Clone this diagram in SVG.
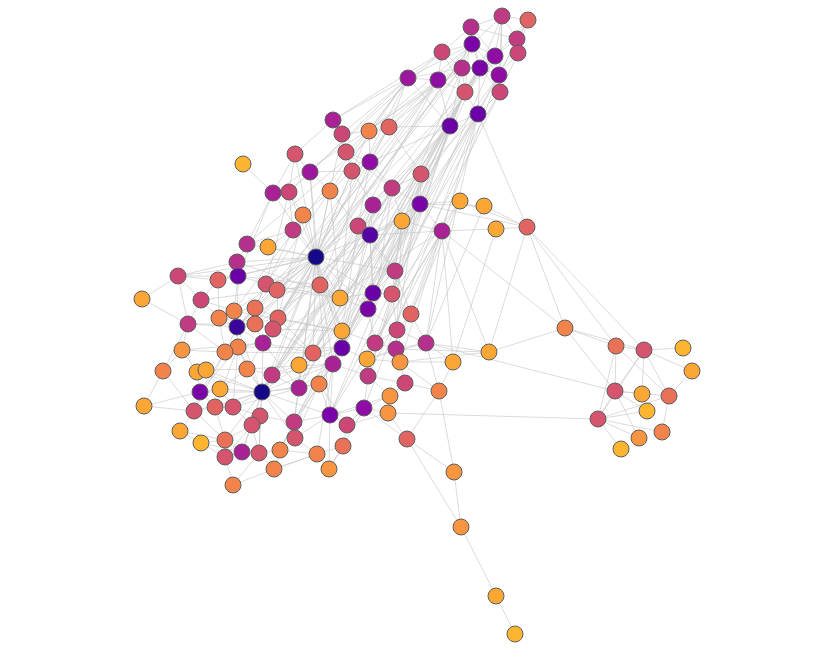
<svg xmlns="http://www.w3.org/2000/svg" width="833" height="651" viewBox="0 0 833 651">
<style>
.e{fill:none;stroke:#c6c6c6;stroke-width:0.75;stroke-opacity:0.85}
.n circle{stroke:#5f5f5f;stroke-width:1}
.k0{fill:#150889}.k1{fill:#3b049a}.k2{fill:#5402a3}.k3{fill:#6a00a8}.k4{fill:#7a02a8}.k5{fill:#8f0da4}.k6{fill:#9c179e}.k7{fill:#a82296}.k8{fill:#b52f8c}.k9{fill:#c13b82}.k10{fill:#cc4778}.k11{fill:#d5546e}.k12{fill:#e16462}.k13{fill:#e97158}.k14{fill:#f2844b}.k15{fill:#f89540}.k16{fill:#fca636}.k17{fill:#fdb42f}
</style>
<rect width="833" height="651" fill="#ffffff"/>
<g id="edges">
<path class="e" d="M471 27L502 16M471 27L472 44M471 27L442 52M471 27L495 56M471 27L462 68M471 27L480 68M471 27L517 39M502 16L528 20M502 16L472 44M502 16L517 39M502 16L495 56M502 16L480 68M502 16L499 75M528 20L517 39M528 20L518 53M528 20L495 56M472 44L442 52M472 44L495 56M472 44L462 68M472 44L480 68M472 44L499 75M472 44L408 78M472 44L438 80M442 52L462 68M442 52L408 78M442 52L438 80M442 52L465 92M517 39L495 56M517 39L518 53M517 39L499 75M518 53L499 75M518 53L500 92M495 56L480 68M495 56L499 75M495 56L465 92M462 68L480 68M462 68L438 80M462 68L465 92M462 68L450 126M480 68L499 75M480 68L465 92M480 68L500 92M480 68L478 114M499 75L500 92M499 75L478 114M408 78L438 80M408 78L450 126M438 80L465 92M438 80L450 126M465 92L450 126M465 92L478 114M500 92L478 114M450 126L478 114M408 78L462 68M528 20L499 75M502 16L500 92M471 27L465 92"/>
<path class="e" d="M408 78L333 120M408 78L369 131M408 78L389 127M408 78L342 134M438 80L389 127M438 80L369 131M450 126L389 127M450 126L421 174M450 126L370 162M478 114L421 174M478 114L420 204M478 114L527 227M442 52L333 120M472 44L369 131M462 68L389 127M465 92L421 174M438 80L370 162M450 126L392 188M478 114L442 231M450 126L402 221M465 92L420 204"/>
<path class="e" d="M462 68L316 257M408 78L316 257M438 80L316 257M450 126L316 257M480 68L368 309M465 92L373 293M478 114L426 343M450 126L375 343M499 75L396 349M495 56L320 285M472 44L278 318M438 80L262 392M450 126L262 392M480 68L299 388M465 92L237 327M462 68L342 348M500 92L367 359M408 78L266 284M478 114L330 415M450 126L368 376M499 75L280 450M465 92L313 353M438 80L247 244M462 68L273 193M480 68L373 205M500 92L395 271M442 52L310 172M408 78L289 192M495 56L392 294M478 114L364 408M465 92L294 422M450 126L263 343M480 68L272 375M499 75L340 298M450 126L342 348M478 114L333 364M465 92L330 415M480 68L313 353M462 68L237 327M438 80L255 324M408 78L234 311M472 44L263 343"/>
<path class="e" d="M333 120L342 134M333 120L295 154M333 120L346 152M342 134L369 131M342 134L346 152M369 131L389 127M369 131L370 162M389 127L370 162M389 127L421 174M295 154L310 172M295 154L273 193M295 154L289 192M346 152L370 162M346 152L352 171M370 162L352 171M370 162L392 188M310 172L289 192M310 172L330 191M310 172L352 171M352 171L330 191M352 171L373 205M243 164L273 193M273 193L289 192M273 193L247 244M289 192L303 215M289 192L293 230M330 191L303 215M330 191L358 226M392 188L373 205M392 188L421 174M392 188L420 204M373 205L358 226M373 205L370 235M420 204L370 235M420 204L402 221M420 204L460 201M420 204L442 231M420 204L527 227M402 221L442 231M460 201L527 227M484 206L527 227M496 229L527 227M442 231L496 229M442 231L370 235M293 230L247 244M293 230L268 247M303 215L293 230M358 226L370 235M402 221L370 235M421 174L420 204M392 188L402 221M346 152L392 188M484 206L420 204M460 201L442 231M370 162L358 226M369 131L346 152"/>
<path class="e" d="M527 227L616 346M527 227L644 350M527 227L565 328M442 231L565 328M442 231L453 362M442 231L489 352M527 227L489 352"/>
<path class="e" d="M316 257L273 193M316 257L289 192M316 257L330 191M316 257L303 215M316 257L293 230M316 257L358 226M316 257L370 235M316 257L310 172M316 257L352 171M316 257L247 244M316 257L268 247M316 257L373 205M316 257L342 134M316 257L295 154M316 257L237 262M316 257L238 276M316 257L266 284M316 257L277 290M316 257L320 285M316 257L255 308M316 257L278 318M316 257L255 324M316 257L273 329M316 257L263 343M316 257L313 353M316 257L340 298M316 257L373 293M316 257L368 309M316 257L342 331M316 257L342 348M316 257L262 392M316 257L299 388M316 257L272 375M316 257L330 415M316 257L395 271M316 257L237 327M316 257L234 311M316 257L178 276M316 257L294 422M316 257L333 364M316 257L218 280"/>
<path class="e" d="M178 276L142 299M178 276L238 276M178 276L218 280M178 276L201 300M178 276L188 324M178 276L237 262M142 299L188 324M237 262L247 244M237 262L238 276M238 276L218 280M238 276L266 284M238 276L237 327M238 276L234 311M218 280L201 300M218 280L219 318M266 284L277 290M266 284L255 308M277 290L278 318M277 290L320 285M201 300L188 324M201 300L219 318M201 300L234 311M255 308L234 311M255 308L255 324M255 308L237 327M234 311L219 318M234 311L237 327M219 318L237 327M278 318L273 329M237 327L255 324M237 327L263 343M237 327L238 347M237 327L225 352M255 324L273 329M273 329L263 343M188 324L182 350M188 324L237 327M188 324L163 371M263 343L238 347M263 343L247 369M238 347L225 352M238 347L247 369M225 352L182 350M182 350L163 371M182 350L197 372M313 353L299 365M313 353L263 343M299 365L272 375M247 369L272 375M272 375L262 392M163 371L144 406M163 371L194 411M197 372L206 370M197 372L200 392M206 370L220 389M219 318L225 352M188 324L225 352M278 318L237 327M144 406L200 392"/>
<path class="e" d="M237 262L340 298M238 276L320 285M201 300L277 290M234 311L342 331M219 318L273 329M188 324L255 324M182 350L263 343M225 352L313 353M238 347L342 348M247 369L333 364M197 372L262 392M206 370L247 369M255 308L278 318M255 324L320 285M266 284L340 298M273 329L342 331M263 343L299 388M272 375L333 364M299 365L342 331M313 353L340 298M278 318L313 353M233 407L299 388M215 407L238 347M220 389L247 369M200 392L238 347M194 411L225 352M144 406L194 411M180 431L201 443M201 443L242 452M233 485L259 453M274 469L317 454M329 469L343 446M280 450L294 422M347 425L388 413M330 415L390 396M347 425L364 408M343 446L364 408M317 454L333 364M329 469L330 415M295 438L319 384M294 422L333 364"/>
<path class="e" d="M273 193L238 276M289 192L266 284M303 215L278 318M293 230L255 308M330 191L340 298M310 172L320 285M358 226L342 331M373 205L342 348M370 235L333 364M352 171L340 298M402 221L396 349M392 188L367 359M421 174L397 330M442 231L400 362M420 204L368 376M460 201L411 314M484 206L426 343M496 229L453 362M420 204L294 422M442 231L330 415M402 221L299 388M421 174L313 353M392 188L262 392M373 205L299 365M370 235L272 375M389 127L278 318"/>
<path class="e" d="M262 392L200 392M262 392L220 389M262 392L299 388M262 392L319 384M262 392L233 407M262 392L260 416M262 392L252 425M262 392L215 407M262 392L247 369M262 392L238 347M262 392L299 365M262 392L294 422M262 392L295 438M262 392L242 452M262 392L259 453M262 392L225 440M262 392L194 411M262 392L206 370M262 392L333 364M262 392L330 415M262 392L263 343M262 392L237 327"/>
<path class="e" d="M200 392L220 389M200 392L194 411M200 392L215 407M220 389L233 407M194 411L215 407M194 411L180 431M194 411L225 440M215 407L233 407M215 407L225 440M233 407L260 416M233 407L252 425M260 416L252 425M260 416L294 422M252 425L225 440M252 425L259 453M252 425L225 457M180 431L225 440M201 443L225 440M201 443L225 457M225 440L225 457M225 440L242 452M225 457L242 452M225 457L233 485M242 452L259 453M259 453L280 450M259 453L274 469M280 450L274 469M280 450L317 454M294 422L295 438M295 438L280 450M295 438L317 454M330 415L347 425M330 415L294 422M330 415L295 438M347 425L343 446M317 454L343 446M343 446L329 469M274 469L233 485M317 454L329 469M299 388L319 384M299 388L294 422M319 384L330 415M319 384L333 364M252 425L242 452M260 416L259 453M294 422L280 450M274 469L317 454"/>
<path class="e" d="M395 271L392 294M395 271L373 293M395 271L370 235M395 271L358 226M395 271L402 221M395 271L411 314M340 298L373 293M340 298L320 285M340 298L368 309M373 293L392 294M373 293L368 309M373 293L370 235M392 294L411 314M392 294L397 330M368 309L397 330M368 309L342 331M368 309L375 343M368 309L342 348M411 314L426 343M411 314L397 330M342 331L342 348M342 331L375 343M397 330L375 343M397 330L426 343M397 330L396 349M375 343L396 349M375 343L367 359M342 348L333 364M342 348L367 359M342 348L313 353M426 343L396 349M426 343L453 362M426 343L489 352M426 343L439 391M396 349L400 362M396 349L367 359M333 364L368 376M333 364L319 384M333 364L330 415M367 359L400 362M367 359L368 376M400 362L453 362M400 362L489 352M400 362L405 383M453 362L439 391M368 376L405 383M368 376L390 396M368 376L364 408M405 383L439 391M405 383L390 396M390 396L388 413M390 396L364 408M364 408L388 413M364 408L330 415M364 408L347 425M388 413L407 439M439 391L407 439M439 391L454 472M407 439L454 472M407 439L461 527M454 472L461 527M461 527L496 596M496 596L515 634M364 408L407 439M489 352L565 328M426 343L615 391M388 413L598 419M367 359L426 343M396 349L489 352M400 362L439 391"/>
<path class="e" d="M565 328L616 346M565 328L644 350M565 328L615 391M616 346L644 350M616 346L615 391M616 346L598 419M616 346L669 396M644 350L683 348M644 350L692 371M644 350L615 391M644 350L669 396M644 350L642 394M615 391L642 394M615 391L669 396M615 391L598 419M615 391L647 411M615 391L639 438M669 396L692 371M669 396L662 432M598 419L669 396M598 419L639 438M598 419L662 432M598 419L621 449M598 419L647 411M598 419L644 350"/>
<path class="e" d="M420 204L237 327M370 235L262 392M442 231L263 343M402 221L313 353M373 205L299 388M392 188L342 348M421 174L278 318M420 204L262 392M442 231L368 376M402 221L333 364M358 226L272 375M370 162L320 285M389 127L277 290M369 131L316 257M392 188L299 365M442 231L375 343M421 174L368 309M420 204L342 331M420 204L373 293M402 221L395 271M442 231L426 343M442 231L411 314M370 235L373 293M421 174L392 294M460 201L392 294M320 285L342 331M277 290L340 298M278 318L342 331M273 329L313 353M299 365L342 348M299 365L299 388M299 388L333 364M319 384L347 425M272 375L299 388M238 347L233 407M225 352L200 392M255 324L263 343M278 318L263 343"/>
</g>
<g id="nodes">
<g id="T1" class="n"><circle cx="471" cy="27" r="8" class="k8"/></g>
<g id="T2" class="n"><circle cx="502" cy="16" r="8" class="k9"/></g>
<g id="T3" class="n"><circle cx="528" cy="20" r="8" class="k12"/></g>
<g id="T4" class="n"><circle cx="472" cy="44" r="8" class="k4"/></g>
<g id="T5" class="n"><circle cx="442" cy="52" r="8" class="k10"/></g>
<g id="T6" class="n"><circle cx="517" cy="39" r="8" class="k9"/></g>
<g id="T7" class="n"><circle cx="518" cy="53" r="8" class="k10"/></g>
<g id="T8" class="n"><circle cx="495" cy="56" r="8" class="k5"/></g>
<g id="T9" class="n"><circle cx="462" cy="68" r="8" class="k8"/></g>
<g id="T10" class="n"><circle cx="480" cy="68" r="8" class="k4"/></g>
<g id="T11" class="n"><circle cx="499" cy="75" r="8" class="k5"/></g>
<g id="T12" class="n"><circle cx="408" cy="78" r="8" class="k6"/></g>
<g id="T13" class="n"><circle cx="438" cy="80" r="8" class="k5"/></g>
<g id="T14" class="n"><circle cx="465" cy="92" r="8" class="k11"/></g>
<g id="T15" class="n"><circle cx="500" cy="92" r="8" class="k10"/></g>
<g id="T16" class="n"><circle cx="450" cy="126" r="8" class="k3"/></g>
<g id="T17" class="n"><circle cx="478" cy="114" r="8" class="k3"/></g>
<g id="A1" class="n"><circle cx="333" cy="120" r="8" class="k7"/></g>
<g id="A2" class="n"><circle cx="342" cy="134" r="8" class="k10"/></g>
<g id="A3" class="n"><circle cx="369" cy="131" r="8" class="k14"/></g>
<g id="A4" class="n"><circle cx="389" cy="127" r="8" class="k12"/></g>
<g id="A5" class="n"><circle cx="243" cy="164" r="8" class="k17"/></g>
<g id="A6" class="n"><circle cx="295" cy="154" r="8" class="k11"/></g>
<g id="A7" class="n"><circle cx="346" cy="152" r="8" class="k11"/></g>
<g id="A8" class="n"><circle cx="370" cy="162" r="8" class="k5"/></g>
<g id="A9" class="n"><circle cx="310" cy="172" r="8" class="k6"/></g>
<g id="A10" class="n"><circle cx="352" cy="171" r="8" class="k11"/></g>
<g id="A11" class="n"><circle cx="421" cy="174" r="8" class="k11"/></g>
<g id="A12" class="n"><circle cx="273" cy="193" r="8" class="k7"/></g>
<g id="A13" class="n"><circle cx="289" cy="192" r="8" class="k10"/></g>
<g id="A14" class="n"><circle cx="330" cy="191" r="8" class="k14"/></g>
<g id="A15" class="n"><circle cx="392" cy="188" r="8" class="k9"/></g>
<g id="A16" class="n"><circle cx="303" cy="215" r="8" class="k14"/></g>
<g id="A17" class="n"><circle cx="373" cy="205" r="8" class="k7"/></g>
<g id="A18" class="n"><circle cx="420" cy="204" r="8" class="k4"/></g>
<g id="A19" class="n"><circle cx="293" cy="230" r="8" class="k9"/></g>
<g id="A20" class="n"><circle cx="358" cy="226" r="8" class="k10"/></g>
<g id="A21" class="n"><circle cx="370" cy="235" r="8" class="k2"/></g>
<g id="A22" class="n"><circle cx="402" cy="221" r="8" class="k16"/></g>
<g id="A23" class="n"><circle cx="460" cy="201" r="8" class="k16"/></g>
<g id="A24" class="n"><circle cx="484" cy="206" r="8" class="k16"/></g>
<g id="A25" class="n"><circle cx="442" cy="231" r="8" class="k7"/></g>
<g id="A26" class="n"><circle cx="496" cy="229" r="8" class="k16"/></g>
<g id="A27" class="n"><circle cx="527" cy="227" r="8" class="k12"/></g>
<g id="A28" class="n"><circle cx="247" cy="244" r="8" class="k8"/></g>
<g id="A29" class="n"><circle cx="268" cy="247" r="8" class="k16"/></g>
<g id="B1" class="n"><circle cx="316" cy="257" r="8" class="k0"/></g>
<g id="B2" class="n"><circle cx="237" cy="262" r="8" class="k8"/></g>
<g id="B3" class="n"><circle cx="178" cy="276" r="8" class="k10"/></g>
<g id="B4" class="n"><circle cx="238" cy="276" r="8" class="k3"/></g>
<g id="B5" class="n"><circle cx="218" cy="280" r="8" class="k12"/></g>
<g id="B6" class="n"><circle cx="266" cy="284" r="8" class="k11"/></g>
<g id="B7" class="n"><circle cx="277" cy="290" r="8" class="k12"/></g>
<g id="B8" class="n"><circle cx="320" cy="285" r="8" class="k12"/></g>
<g id="B9" class="n"><circle cx="142" cy="299" r="8" class="k16"/></g>
<g id="B10" class="n"><circle cx="201" cy="300" r="8" class="k10"/></g>
<g id="B11" class="n"><circle cx="255" cy="308" r="8" class="k13"/></g>
<g id="B12" class="n"><circle cx="234" cy="311" r="8" class="k14"/></g>
<g id="B13" class="n"><circle cx="219" cy="318" r="8" class="k14"/></g>
<g id="B14" class="n"><circle cx="278" cy="318" r="8" class="k12"/></g>
<g id="B15" class="n"><circle cx="237" cy="327" r="8" class="k1"/></g>
<g id="B16" class="n"><circle cx="255" cy="324" r="8" class="k13"/></g>
<g id="B17" class="n"><circle cx="273" cy="329" r="8" class="k11"/></g>
<g id="B18" class="n"><circle cx="188" cy="324" r="8" class="k9"/></g>
<g id="B19" class="n"><circle cx="263" cy="343" r="8" class="k7"/></g>
<g id="B20" class="n"><circle cx="238" cy="347" r="8" class="k14"/></g>
<g id="B21" class="n"><circle cx="225" cy="352" r="8" class="k14"/></g>
<g id="B22" class="n"><circle cx="182" cy="350" r="8" class="k15"/></g>
<g id="B23" class="n"><circle cx="313" cy="353" r="8" class="k12"/></g>
<g id="B24" class="n"><circle cx="299" cy="365" r="8" class="k16"/></g>
<g id="B25" class="n"><circle cx="247" cy="369" r="8" class="k14"/></g>
<g id="B26" class="n"><circle cx="272" cy="375" r="8" class="k9"/></g>
<g id="B27" class="n"><circle cx="163" cy="371" r="8" class="k14"/></g>
<g id="B28" class="n"><circle cx="197" cy="372" r="8" class="k16"/></g>
<g id="B29" class="n"><circle cx="206" cy="370" r="8" class="k16"/></g>
<g id="C1" class="n"><circle cx="395" cy="271" r="8" class="k9"/></g>
<g id="C2" class="n"><circle cx="340" cy="298" r="8" class="k16"/></g>
<g id="C3" class="n"><circle cx="373" cy="293" r="8" class="k3"/></g>
<g id="C4" class="n"><circle cx="392" cy="294" r="8" class="k11"/></g>
<g id="C5" class="n"><circle cx="368" cy="309" r="8" class="k4"/></g>
<g id="C6" class="n"><circle cx="411" cy="314" r="8" class="k12"/></g>
<g id="C7" class="n"><circle cx="342" cy="331" r="8" class="k16"/></g>
<g id="C8" class="n"><circle cx="397" cy="330" r="8" class="k10"/></g>
<g id="C9" class="n"><circle cx="375" cy="343" r="8" class="k9"/></g>
<g id="C10" class="n"><circle cx="342" cy="348" r="8" class="k3"/></g>
<g id="C11" class="n"><circle cx="426" cy="343" r="8" class="k8"/></g>
<g id="C12" class="n"><circle cx="396" cy="349" r="8" class="k8"/></g>
<g id="C13" class="n"><circle cx="333" cy="364" r="8" class="k7"/></g>
<g id="C14" class="n"><circle cx="367" cy="359" r="8" class="k16"/></g>
<g id="C15" class="n"><circle cx="400" cy="362" r="8" class="k15"/></g>
<g id="C16" class="n"><circle cx="489" cy="352" r="8" class="k16"/></g>
<g id="C17" class="n"><circle cx="453" cy="362" r="8" class="k16"/></g>
<g id="C18" class="n"><circle cx="368" cy="376" r="8" class="k9"/></g>
<g id="C19" class="n"><circle cx="405" cy="383" r="8" class="k10"/></g>
<g id="C20" class="n"><circle cx="439" cy="391" r="8" class="k14"/></g>
<g id="C21" class="n"><circle cx="390" cy="396" r="8" class="k15"/></g>
<g id="C22" class="n"><circle cx="364" cy="408" r="8" class="k5"/></g>
<g id="C23" class="n"><circle cx="388" cy="413" r="8" class="k15"/></g>
<g id="C24" class="n"><circle cx="407" cy="439" r="8" class="k12"/></g>
<g id="C25" class="n"><circle cx="454" cy="472" r="8" class="k15"/></g>
<g id="C26" class="n"><circle cx="461" cy="527" r="8" class="k15"/></g>
<g id="C27" class="n"><circle cx="496" cy="596" r="8" class="k16"/></g>
<g id="C28" class="n"><circle cx="515" cy="634" r="8" class="k17"/></g>
<g id="D1" class="n"><circle cx="200" cy="392" r="8" class="k4"/></g>
<g id="D2" class="n"><circle cx="220" cy="389" r="8" class="k16"/></g>
<g id="D3" class="n"><circle cx="262" cy="392" r="8" class="k0"/></g>
<g id="D4" class="n"><circle cx="299" cy="388" r="8" class="k7"/></g>
<g id="D5" class="n"><circle cx="319" cy="384" r="8" class="k14"/></g>
<g id="D6" class="n"><circle cx="144" cy="406" r="8" class="k16"/></g>
<g id="D7" class="n"><circle cx="194" cy="411" r="8" class="k11"/></g>
<g id="D8" class="n"><circle cx="215" cy="407" r="8" class="k12"/></g>
<g id="D9" class="n"><circle cx="233" cy="407" r="8" class="k11"/></g>
<g id="D10" class="n"><circle cx="260" cy="416" r="8" class="k11"/></g>
<g id="D11" class="n"><circle cx="252" cy="425" r="8" class="k11"/></g>
<g id="D12" class="n"><circle cx="330" cy="415" r="8" class="k4"/></g>
<g id="D13" class="n"><circle cx="347" cy="425" r="8" class="k10"/></g>
<g id="D14" class="n"><circle cx="180" cy="431" r="8" class="k16"/></g>
<g id="D15" class="n"><circle cx="201" cy="443" r="8" class="k17"/></g>
<g id="D16" class="n"><circle cx="225" cy="440" r="8" class="k13"/></g>
<g id="D17" class="n"><circle cx="294" cy="422" r="8" class="k9"/></g>
<g id="D18" class="n"><circle cx="295" cy="438" r="8" class="k11"/></g>
<g id="D19" class="n"><circle cx="225" cy="457" r="8" class="k11"/></g>
<g id="D20" class="n"><circle cx="242" cy="452" r="8" class="k7"/></g>
<g id="D21" class="n"><circle cx="259" cy="453" r="8" class="k11"/></g>
<g id="D22" class="n"><circle cx="280" cy="450" r="8" class="k14"/></g>
<g id="D23" class="n"><circle cx="317" cy="454" r="8" class="k14"/></g>
<g id="D24" class="n"><circle cx="343" cy="446" r="8" class="k13"/></g>
<g id="D25" class="n"><circle cx="274" cy="469" r="8" class="k14"/></g>
<g id="D26" class="n"><circle cx="329" cy="469" r="8" class="k15"/></g>
<g id="D27" class="n"><circle cx="233" cy="485" r="8" class="k14"/></g>
<g id="R1" class="n"><circle cx="565" cy="328" r="8" class="k14"/></g>
<g id="R2" class="n"><circle cx="616" cy="346" r="8" class="k13"/></g>
<g id="R3" class="n"><circle cx="644" cy="350" r="8" class="k11"/></g>
<g id="R4" class="n"><circle cx="683" cy="348" r="8" class="k17"/></g>
<g id="R5" class="n"><circle cx="692" cy="371" r="8" class="k16"/></g>
<g id="R6" class="n"><circle cx="615" cy="391" r="8" class="k11"/></g>
<g id="R7" class="n"><circle cx="642" cy="394" r="8" class="k16"/></g>
<g id="R8" class="n"><circle cx="669" cy="396" r="8" class="k13"/></g>
<g id="R9" class="n"><circle cx="647" cy="411" r="8" class="k17"/></g>
<g id="R10" class="n"><circle cx="598" cy="419" r="8" class="k11"/></g>
<g id="R11" class="n"><circle cx="662" cy="432" r="8" class="k14"/></g>
<g id="R12" class="n"><circle cx="639" cy="438" r="8" class="k15"/></g>
<g id="R13" class="n"><circle cx="621" cy="449" r="8" class="k17"/></g>
</g>
</svg>
